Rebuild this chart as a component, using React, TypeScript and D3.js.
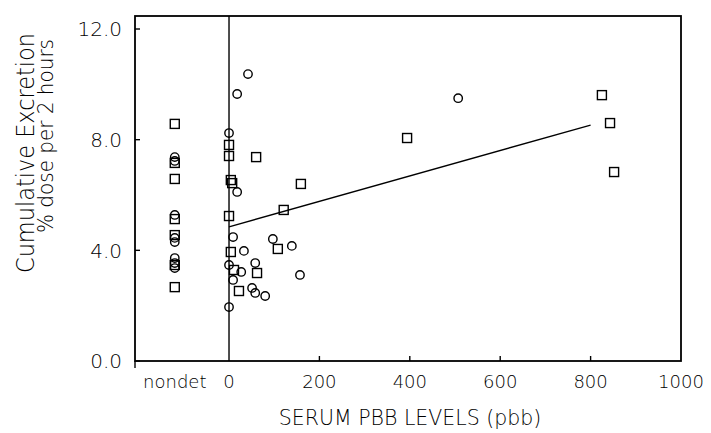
import * as d3 from "d3";

// values
const NONDET_X = -120;
const xTickValues = [NONDET_X, 0, 200, 400, 600, 800, 1000];
const xTickLabels = ["nondet", "0", "200", "400", "600", "800", "1000"];
const yTickValues = [0, 4, 8, 12];
const yTickLabels = ["0.0", "4.0", "8.0", "12.0"];

const nondetSquares = [8.57, 7.16, 6.58, 5.13, 4.55, 3.47, 2.67];
const nondetCircles = [7.37, 7.23, 5.28, 4.45, 4.3, 3.72, 3.54, 3.36];

const circles: [number, number][] = [
  [0, 8.24], [18, 6.11], [9, 4.48], [33, 3.98], [0, 3.47], [27, 3.22],
  [9, 2.93], [51, 2.64], [58, 2.46], [80, 2.35], [0, 1.95], [97, 4.41],
  [139, 4.16], [58, 3.54], [157, 3.11], [18, 9.65], [42, 10.37], [507, 9.5],
];
const squares: [number, number][] = [
  [0, 7.81], [0, 7.41], [4, 6.54], [7, 6.43], [0, 5.24], [4, 3.94],
  [11, 3.29], [22, 2.53], [108, 4.05], [62, 3.18], [60, 7.37], [159, 6.4],
  [121, 5.46], [394, 8.06], [825, 9.61], [843, 8.6], [852, 6.83],
];
const regression: [number, number][] = [[0, 4.85], [800, 8.53]];

const W = 711;
const H = 433;
const left = 135, right = 681, top = 16, bottom = 361;
const font = "'DejaVu Sans', sans-serif";

export default function App() {
  const x = d3.scaleLinear().domain([-208, 1000]).range([left, right]);
  const y = d3.scaleLinear().domain([0, 12.47]).range([bottom, top]);
  const line = d3.line<[number, number]>().x((d) => x(d[0])).y((d) => y(d[1]));

  const allCircles = [
    ...circles,
    ...nondetCircles.map((v) => [NONDET_X, v] as [number, number]),
  ];
  const allSquares = [
    ...squares,
    ...nondetSquares.map((v) => [NONDET_X, v] as [number, number]),
  ];
  const s = 9;

  return (
    <svg
      width={W}
      height={H}
      style={{ position: "absolute", left: 0, top: 0, background: "#fff" }}
      fontFamily={font}
    >
      {/* frame */}
      <rect x={left} y={top} width={right - left} height={bottom - top}
        fill="none" stroke="#000" strokeWidth={1.8} />
      {/* zero line */}
      <line x1={x(0)} x2={x(0)} y1={top} y2={bottom} stroke="#000" strokeWidth={1.4} />

      {/* y ticks */}
      {yTickValues.map((v, i) => (
        <g key={"y" + v}>
          <line x1={left} x2={left + 5} y1={y(v)} y2={y(v)} stroke="#000" strokeWidth={1.4} />
          <text x={122} y={y(v)} dy="0.36em" textAnchor="end" fontSize={20}
            fontWeight={300}>{yTickLabels[i]}</text>
        </g>
      ))}

      {/* x ticks */}
      {xTickValues.map((v, i) => (
        <g key={"x" + v}>
          {v > 0 && v < 1000 && (
            <line x1={x(v)} x2={x(v)} y1={bottom} y2={bottom - 5} stroke="#000" strokeWidth={1.4} />
          )}
          <text x={x(v)} y={388} textAnchor="middle" fontSize={18}
            fontWeight={300}>{xTickLabels[i]}</text>
        </g>
      ))}
      <line x1={left} x2={left} y1={bottom} y2={bottom + 7} stroke="#000" strokeWidth={1.4} />

      {/* regression line */}
      <path d={line(regression) ?? ""} fill="none" stroke="#000" strokeWidth={1.3} />

      {allSquares.map((d, i) => (
        <rect key={"s" + i} x={x(d[0]) - s / 2} y={y(d[1]) - s / 2} width={s} height={s}
          fill="none" stroke="#000" strokeWidth={1.4} />
      ))}
      {allCircles.map((d, i) => (
        <circle key={"c" + i} cx={x(d[0])} cy={y(d[1])} r={4.2}
          fill="none" stroke="#000" strokeWidth={1.4} />
      ))}

      {/* axis titles */}
      <text x={410} y={425} textAnchor="middle" fontSize={20.5} fontWeight={300}>
        SERUM PBB LEVELS (pbb)
      </text>
      <text transform="translate(34,153) rotate(-90)" textAnchor="middle" fontSize={24}
        fontWeight={300} textLength={240} lengthAdjust="spacingAndGlyphs">
        Cumulative Excretion
      </text>
      <text transform="translate(53,136) rotate(-90)" textAnchor="middle" fontSize={21}
        fontWeight={300} textLength={194} lengthAdjust="spacingAndGlyphs">
        % dose per 2 hours
      </text>
    </svg>
  );
}
